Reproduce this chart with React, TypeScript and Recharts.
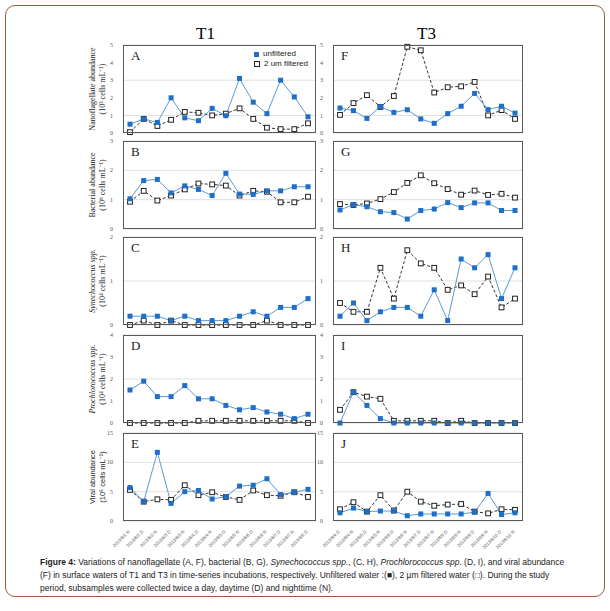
import React from "react";
import { CartesianGrid, Line, LineChart, XAxis, YAxis } from "recharts";

// x categories (daytime D / nighttime N samples)
const T1_LABELS = [
  "2013/6/1 N", "2013/6/2 D", "2013/6/2 N", "2013/6/3 D", "2013/6/3 N", "2013/6/4 D", "2013/6/4 N",
  "2013/6/5 D", "2013/6/5 N", "2013/6/6 D", "2013/6/6 N", "2013/6/7 D", "2013/6/7 N", "2013/6/8 D",
];
const T3_LABELS = [
  "2013/8/4 D", "2013/8/4 N", "2013/8/5 D", "2013/8/5 N", "2013/8/6 D", "2013/8/6 N", "2013/8/7 D",
  "2013/8/7 N", "2013/8/8 D", "2013/8/8 N", "2013/8/9 D", "2013/8/9 N", "2013/8/10 D", "2013/8/10 N",
];

// T1
const A_UNF = [0.5, 0.8, 0.6, 2.0, 0.86, 0.7, 1.4, 0.98, 3.1, 1.75, 1.1, 3.0, 2.05, 0.92];
const A_FIL = [0.05, 0.8, 0.4, 0.75, 1.2, 1.15, 1.0, 1.1, 1.4, 0.8, 0.3, 0.22, 0.22, 0.55];
const B_UNF = [1.03, 1.65, 1.69, 1.23, 1.47, 1.35, 1.14, 1.9, 1.19, 1.18, 1.3, 1.3, 1.44, 1.44];
const B_FIL = [0.93, 1.3, 0.97, 1.14, 1.35, 1.55, 1.52, 1.48, 1.14, 1.3, 1.27, 0.91, 0.91, 1.1];
const C_UNF = [0.2, 0.2, 0.2, 0.1, 0.2, 0.1, 0.1, 0.1, 0.2, 0.3, 0.2, 0.4, 0.4, 0.6];
const C_FIL = [0, 0.1, 0, 0.1, 0, 0, 0, 0, 0, 0, 0.1, 0, 0, 0];
const D_UNF = [1.5, 1.9, 1.2, 1.2, 1.7, 1.1, 1.1, 0.8, 0.6, 0.7, 0.5, 0.4, 0.2, 0.4];
const D_FIL = [0, 0, 0, 0, 0, 0.1, 0.1, 0.1, 0.1, 0.1, 0.1, 0.1, 0.1, 0];
const E_UNF = [5.7, 3.3, 11.7, 3.0, 5.0, 5.2, 3.75, 4.15, 5.95, 6.1, 7.2, 4.5, 4.9, 5.4];
const E_FIL = [5.3, 3.3, 3.7, 3.6, 6.1, 4.4, 4.9, 4.1, 3.6, 5.2, 4.4, 4.3, 4.9, 4.1];

// T3
const F_UNF = [1.42, 1.27, 0.83, 1.5, 1.17, 1.32, 0.8, 0.55, 1.1, 1.52, 2.25, 1.33, 1.52, 1.13];
const F_FIL = [1.03, 1.7, 2.15, 1.48, 2.1, 4.9, 4.7, 2.3, 2.6, 2.65, 2.9, 1.0, 1.3, 0.8];
const G_UNF = [0.65, 0.83, 0.76, 0.59, 0.56, 0.34, 0.63, 0.68, 0.9, 0.73, 0.89, 0.89, 0.63, 0.63];
const G_FIL = [0.85, 0.82, 0.87, 1.02, 1.26, 1.57, 1.83, 1.56, 1.36, 1.17, 1.31, 1.16, 1.2, 1.07];
const H_UNF = [0.2, 0.5, 0.1, 0.3, 0.4, 0.4, 0.2, 0.8, 0.1, 1.5, 1.3, 1.6, 0.6, 1.3];
const H_FIL = [0.5, 0.3, 0.3, 1.3, 0.6, 1.7, 1.4, 1.3, 0.8, 0.9, 0.7, 1.1, 0.4, 0.6];
const I_UNF = [0, 1.4, 0.8, 0.2, 0, 0, 0, 0, 0, 0, 0, 0, 0, 0];
const I_FIL = [0.6, 1.4, 1.2, 1.1, 0.1, 0.1, 0.1, 0.1, 0, 0.1, 0, 0, 0, 0];
const J_UNF = [1.4, 2.2, 1.6, 1.7, 1.7, 0.9, 1.2, 1.2, 1.2, 1.2, 1.5, 4.7, 1.1, 1.4];
const J_FIL = [2.0, 3.2, 1.6, 4.4, 1.8, 5.0, 3.3, 2.6, 2.8, 2.9, 1.6, 1.3, 2.0, 1.9];

const TICKS_NANO = [0, 1, 2, 3, 4, 5];
const TICKS_BACT = [0, 1, 2, 3];
const TICKS_SYN = [0, 1, 2];
const TICKS_PRO = [0, 1, 2, 3, 4];
const TICKS_VIR = [0, 5, 10, 15];

const SERIF = "'Liberation Serif', 'Times New Roman', serif";
const SANS = "'Liberation Sans', Arial, sans-serif";
const BLUE = "#1f6fc8";
const BLUE_LINE = "#5b9bd5";

const LEFT_X = 123;
const LEFT_W = 193;
const RIGHT_X = 333;
const RIGHT_W = 190;
const ROW_TOP = [45, 141, 237, 335, 433];
const PH = 88;
const YW = 16;

function build(labels: string[], unf: number[], fil: number[]) {
  return labels.map((label, i) => ({ label, unf: unf[i], fil: fil[i] }));
}

const UnfDot = (p: any) =>
  p.cx == null ? null : <rect x={p.cx - 2.5} y={p.cy - 2.5} width={5} height={5} fill={BLUE} />;

const FilDot = (p: any) =>
  p.cx == null ? null : (
    <rect x={p.cx - 2.4} y={p.cy - 2.4} width={4.8} height={4.8} fill="#fff" stroke="#222" strokeWidth={1} />
  );

const DateTick = (p: any) => (
  <text
    x={p.x}
    y={p.y + 3}
    transform={`rotate(-45 ${p.x} ${p.y + 3})`}
    textAnchor="end"
    fontSize={4.5}
    fill="#555"
    fontFamily={SANS}
  >
    {p.payload.value}
  </text>
);

function Panel({
  x,
  w,
  row,
  letter,
  data,
  ticks,
  showX,
}: {
  x: number;
  w: number;
  row: number;
  letter: string;
  data: any[];
  ticks: number[];
  showX?: boolean;
}) {
  const top = ROW_TOP[row];
  const tm = 4;
  const xh = showX ? 30 : 0;
  return (
    <>
      <div style={{ position: "absolute", left: x - YW, top: top - tm }}>
        <LineChart
          width={w + YW + 2}
          height={PH + tm + 4 + xh}
          data={data}
          margin={{ top: tm, right: 2, left: 0, bottom: 4 }}
        >
          <CartesianGrid vertical={false} stroke="#e0e0e0" />
          <XAxis
            dataKey="label"
            hide={!showX}
            height={xh}
            padding={{ left: 7, right: 8 }}
            interval={0}
            tick={<DateTick />}
            tickLine={false}
            axisLine={false}
          />
          <YAxis
            width={YW}
            domain={[ticks[0], ticks[ticks.length - 1]]}
            ticks={ticks}
            tick={{ fontSize: 6, fill: "#555", fontFamily: SERIF }}
            tickLine={false}
            axisLine={false}
            tickMargin={4}
          />
          <Line
            dataKey="fil"
            stroke="#333"
            strokeWidth={1}
            strokeDasharray="3 2"
            dot={<FilDot />}
            activeDot={false}
            isAnimationActive={false}
          />
          <Line
            dataKey="unf"
            stroke={BLUE_LINE}
            strokeWidth={1}
            dot={<UnfDot />}
            activeDot={false}
            isAnimationActive={false}
          />
        </LineChart>
      </div>
      <div
        style={{
          position: "absolute",
          left: x,
          top,
          width: w,
          height: PH,
          border: "1.3px solid #5a5a5a",
          boxSizing: "border-box",
          pointerEvents: "none",
        }}
      />
      <div
        style={{
          position: "absolute",
          left: x + 8,
          top: top + 3,
          fontFamily: SERIF,
          fontSize: 13,
          color: "#222",
        }}
      >
        {letter}
      </div>
    </>
  );
}

function YTitle({ row, lines, italic, sans }: { row: number; lines: string[]; italic?: boolean; sans?: boolean }) {
  return (
    <div
      style={{
        position: "absolute",
        left: 98,
        top: ROW_TOP[row] + PH / 2,
        transform: "translate(-50%, -50%) rotate(-90deg)",
        whiteSpace: "nowrap",
        textAlign: "center",
        fontFamily: sans ? SANS : SERIF,
        fontSize: sans ? 7.5 : 8,
        lineHeight: "10px",
        color: "#222",
      }}
    >
      <div style={{ fontStyle: italic ? "italic" : "normal" }}>{lines[0]}</div>
      <div>{lines[1]}</div>
    </div>
  );
}

export default function App() {
  return (
    <div style={{ position: "absolute", left: 0, top: 0, width: 610, height: 611, background: "#fff" }}>
      <div
        style={{
          position: "absolute",
          left: 5,
          top: 5,
          width: 600,
          height: 592,
          border: "1px solid #9a5a3a",
          borderRadius: 10,
          boxSizing: "border-box",
        }}
      />
      <div style={{ position: "absolute", left: 196, top: 24, fontFamily: SERIF, fontSize: 17 }}>T1</div>
      <div style={{ position: "absolute", left: 417, top: 24, fontFamily: SERIF, fontSize: 17 }}>T3</div>

      <Panel x={LEFT_X} w={LEFT_W} row={0} letter="A" data={build(T1_LABELS, A_UNF, A_FIL)} ticks={TICKS_NANO} />
      <Panel x={LEFT_X} w={LEFT_W} row={1} letter="B" data={build(T1_LABELS, B_UNF, B_FIL)} ticks={TICKS_BACT} />
      <Panel x={LEFT_X} w={LEFT_W} row={2} letter="C" data={build(T1_LABELS, C_UNF, C_FIL)} ticks={TICKS_SYN} />
      <Panel x={LEFT_X} w={LEFT_W} row={3} letter="D" data={build(T1_LABELS, D_UNF, D_FIL)} ticks={TICKS_PRO} />
      <Panel x={LEFT_X} w={LEFT_W} row={4} letter="E" data={build(T1_LABELS, E_UNF, E_FIL)} ticks={TICKS_VIR} showX />

      <Panel x={RIGHT_X} w={RIGHT_W} row={0} letter="F" data={build(T3_LABELS, F_UNF, F_FIL)} ticks={TICKS_NANO} />
      <Panel x={RIGHT_X} w={RIGHT_W} row={1} letter="G" data={build(T3_LABELS, G_UNF, G_FIL)} ticks={TICKS_BACT} />
      <Panel x={RIGHT_X} w={RIGHT_W} row={2} letter="H" data={build(T3_LABELS, H_UNF, H_FIL)} ticks={TICKS_SYN} />
      <Panel x={RIGHT_X} w={RIGHT_W} row={3} letter="I" data={build(T3_LABELS, I_UNF, I_FIL)} ticks={TICKS_PRO} />
      <Panel x={RIGHT_X} w={RIGHT_W} row={4} letter="J" data={build(T3_LABELS, J_UNF, J_FIL)} ticks={TICKS_VIR} showX />

      <YTitle row={0} lines={["Nanoflagellate abundance", "(10³ cells mL⁻¹)"]} />
      <YTitle row={1} lines={["Bacterial abundance", "(10⁶ cells mL⁻¹)"]} />
      <YTitle row={2} lines={["Synechococcus spp.", "(10⁴ cells mL⁻¹)"]} italic />
      <YTitle row={3} lines={["Prochlorococcus spp.", "(10⁴ cells mL⁻¹)"]} italic />
      <YTitle row={4} lines={["Viral abundance", "(10⁶ cells mL⁻¹)"]} sans />

      {/* legend inside panel A */}
      <div style={{ position: "absolute", left: 254, top: 49, fontFamily: SANS, fontSize: 8, color: "#222", lineHeight: "10px" }}>
        <div style={{ display: "flex", alignItems: "center", gap: 4 }}>
          <span style={{ width: 5, height: 5, background: BLUE, display: "inline-block" }} />
          unfiltered
        </div>
        <div style={{ display: "flex", alignItems: "center", gap: 4 }}>
          <span style={{ width: 4, height: 4, border: "1px solid #222", display: "inline-block" }} />
          2 um filtered
        </div>
      </div>

      <div
        style={{
          position: "absolute",
          left: 40,
          top: 556,
          width: 545,
          fontFamily: SANS,
          fontSize: 8.5,
          lineHeight: "13px",
          color: "#222",
          whiteSpace: "nowrap",
        }}
      >
        <b>Figure 4:</b> Variations of nanoflagellate (A, F), bacterial (B, G), <i>Synechococcus spp.</i>, (C, H),{" "}
        <i>Prochlorococcus spp.</i> (D, I), and viral abundance
        <br />
        (F) in surface waters of T1 and T3 in time-series incubations, respectively. Unfiltered water :(■), 2 µm
        filtered water (□). During the study
        <br />
        period, subsamples were collected twice a day, daytime (D) and nighttime (N).
      </div>
    </div>
  );
}
